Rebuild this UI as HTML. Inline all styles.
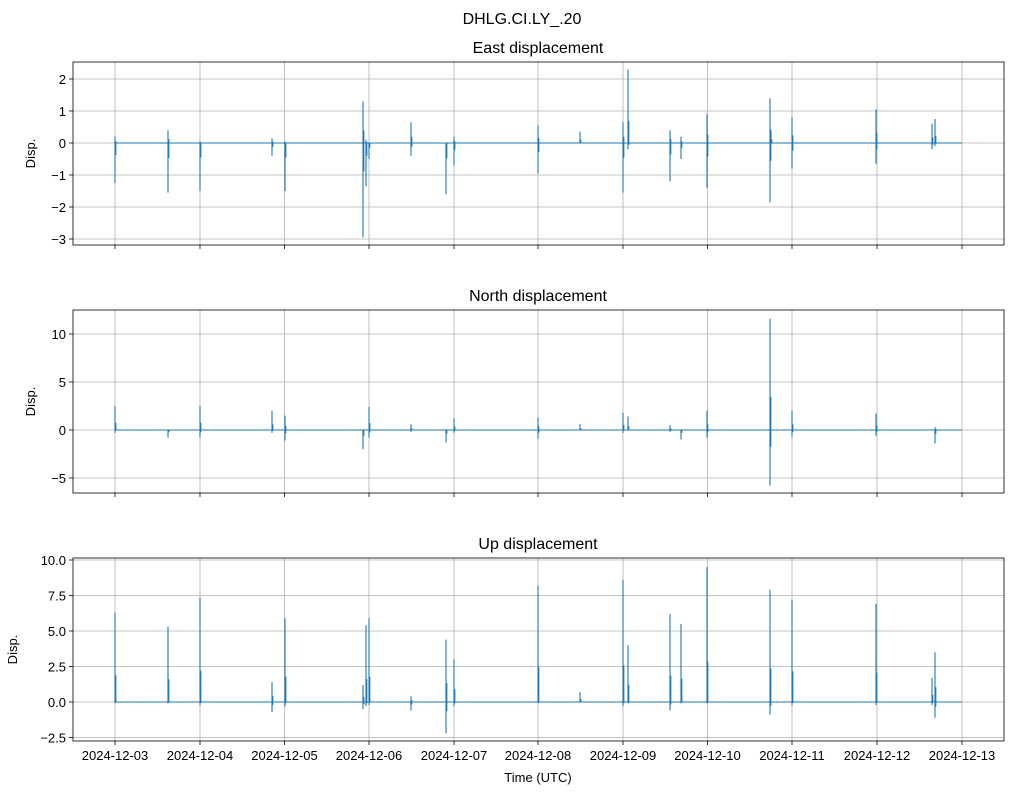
<!DOCTYPE html>
<html><head><meta charset="utf-8"><style>body{margin:0;background:#fff}svg{display:block}text{font-family:"Liberation Sans",sans-serif;fill:#000}</style></head>
<body>
<svg id="s" width="1012" height="795" xmlns="http://www.w3.org/2000/svg"></svg>
<script>
const s=document.getElementById('s');let h='';
const X0=73,X1=1004,xs=[115,200,284.5,369,454,538,623,707.5,792,877,962];
const dates=['2024-12-03','2024-12-04','2024-12-05','2024-12-06','2024-12-07','2024-12-08','2024-12-09','2024-12-10','2024-12-11','2024-12-12','2024-12-13'];
h+='<text x="522" y="24" font-size="16" text-anchor="middle">DHLG.CI.LY_.20</text>';
const panels=[
 {t:'East displacement',y0:62,y1:245,zero:143,k:32,ticks:[[2,'2'],[1,'1'],[0,'0'],[-1,'−1'],[-2,'−2'],[-3,'−3']],
  sp:[[115,.2,-1.25],[168,.4,-1.55],[200,.05,-1.5],[272,.15,-.4],[285,.05,-1.5],[363,1.3,-2.95],[366,.1,-1.35],[369,0,-.5],[411,.65,-.4],[446,0,-1.6],[454,.2,-.7],[538,.55,-.95],[580,.35,0],[623,.65,-1.55],[628,2.3,-.2],[670,.4,-1.2],[681,.2,-.5],[707,.9,-1.4],[770,1.4,-1.85],[771,.35,0],[792,.8,-.8],[876,1.05,-.65],[932,.6,-.2],[935,.75,-.1]]},
 {t:'North displacement',y0:310,y1:493,zero:430,k:9.6,ticks:[[10,'10'],[5,'5'],[0,'0'],[-5,'−5']],
  sp:[[115,2.5,-.3],[168,0,-.8],[200,2.5,-.8],[272,2,-.3],[285,1.5,-1.1],[363,0,-2],[369,2.4,-.8],[411,.6,-.2],[446,0,-1.3],[454,1.2,-.3],[538,1.3,-.9],[580,.6,0],[623,1.8,-.3],[628,1.4,0],[670,.5,-.2],[681,0,-1],[707,2,-.8],[770,11.6,-5.8],[792,2,-.7],[876,1.7,-.6],[935,.3,-1.4]]},
 {t:'Up displacement',y0:558,y1:741,zero:702,k:14.2,ticks:[[10,'10.0'],[7.5,'7.5'],[5,'5.0'],[2.5,'2.5'],[0,'0.0'],[-2.5,'−2.5']],
  sp:[[115,6.3,-.1],[168,5.3,-.1],[200,7.35,-.2],[272,1.4,-.7],[285,5.9,-.3],[363,1.2,-.5],[366,5.4,-.3],[369,5.9,-.2],[411,.4,-.6],[446,4.4,-2.2],[454,3,-.3],[538,8.2,-.1],[580,.7,0],[623,8.6,-.3],[628,4,-.1],[670,6.2,-.6],[681,5.5,-.1],[707,9.5,-.1],[770,7.9,-.9],[792,7.2,-.2],[876,6.9,-.2],[932,1.7,-.2],[935,3.5,-1.1]]}
];
panels.forEach((p,i)=>{
 h+=`<text x="538" y="${p.y0-9}" font-size="16" text-anchor="middle">${p.t}</text>`;
 xs.forEach(x=>{h+=`<line x1="${x}" x2="${x}" y1="${p.y0}" y2="${p.y1}" stroke="#b0b0b0" stroke-width="0.8"/>`;h+=`<line x1="${x}" x2="${x}" y1="${p.y1}" y2="${p.y1+4}" stroke="#000" stroke-width="0.8"/>`;});
 p.ticks.forEach(([v,l])=>{const y=p.zero-p.k*v;h+=`<line x1="${X0}" x2="${X1}" y1="${y}" y2="${y}" stroke="#b0b0b0" stroke-width="0.8"/><line x1="${X0-4}" x2="${X0}" y1="${y}" y2="${y}" stroke="#000" stroke-width="0.8"/><text x="${X0-7}" y="${y+5}" font-size="13" text-anchor="end">${l}</text>`;});
 const lx=i==2?17:35;const cy=(p.y0+p.y1)/2;
 h+=`<text x="${lx}" y="${cy}" font-size="13" text-anchor="middle" transform="rotate(-90 ${lx} ${cy})">Disp.</text>`;
 let d=`M115 ${p.zero}H962`;
 p.sp.forEach(([x,a,b])=>{d+=`M${x} ${p.zero-p.k*a}V${p.zero-p.k*b}M${x+0.8} ${p.zero-p.k*a*0.3}V${p.zero-p.k*b*0.3}`;});
 h+=`<path d="${d}" stroke="#1f77b4" stroke-width="1.1" fill="none"/>`;
 h+=`<rect x="${X0}" y="${p.y0}" width="${X1-X0}" height="${p.y1-p.y0}" fill="none" stroke="#000" stroke-width="0.8"/>`;
 if(i==2){xs.forEach((x,j)=>{h+=`<text x="${x}" y="${p.y1+19}" font-size="13" text-anchor="middle">${dates[j]}</text>`;});
  h+=`<text x="538" y="782" font-size="13" text-anchor="middle">Time (UTC)</text>`;}
});
s.innerHTML=h;
</script>
</body></html>
